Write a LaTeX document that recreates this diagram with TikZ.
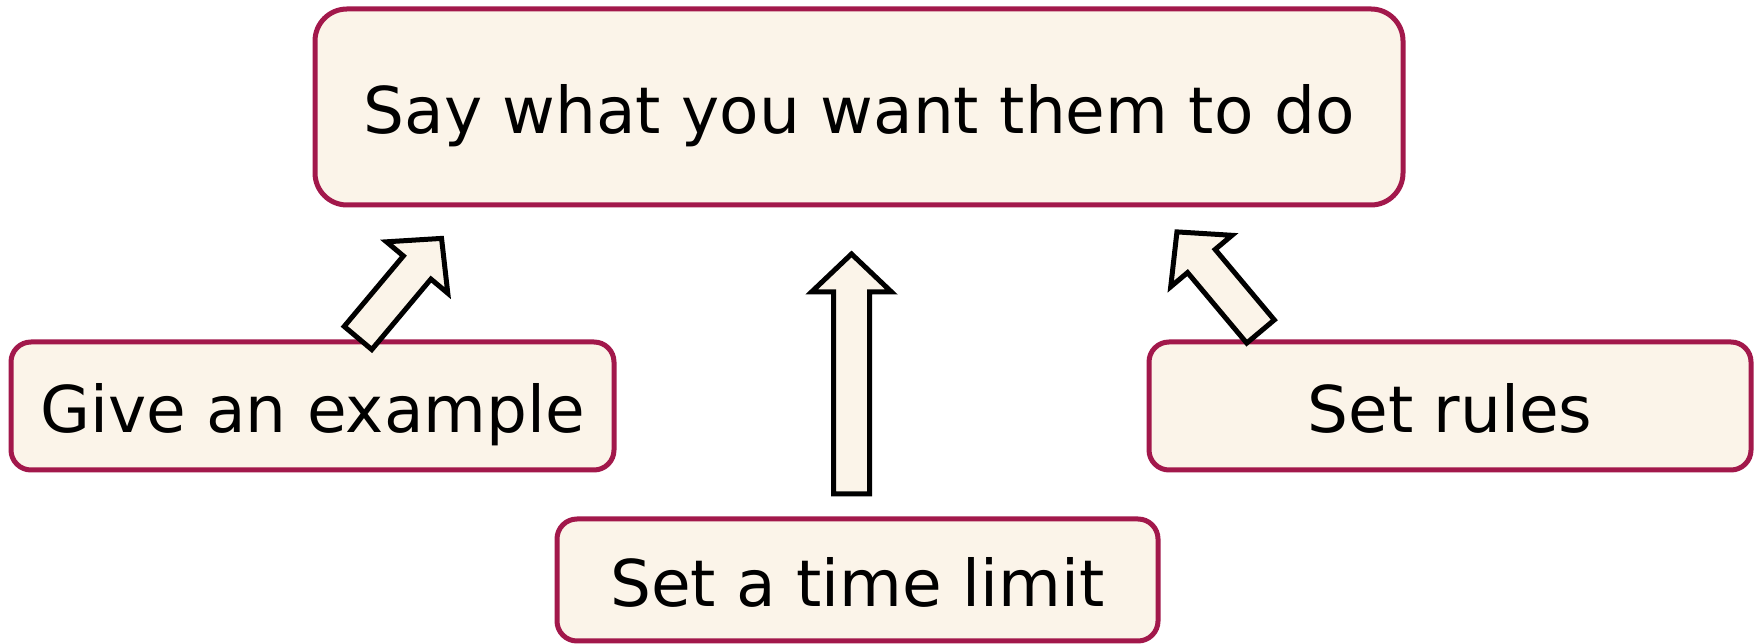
\documentclass[tikz,border=0pt]{standalone}
\usepackage{fontspec}
\setmainfont{DejaVu Sans}
\definecolor{boxborder}{HTML}{A2184B}
\definecolor{boxfill}{HTML}{FBF4E9}
\tikzset{
  box/.style={draw=boxborder, fill=boxfill, line width=5pt, rectangle,
    rounded corners=20pt, inner sep=0pt, font=\fontsize{64.5}{78}\selectfont,
    text height=54pt, text depth=0pt},
  blockarrowstyle/.style={draw=black, fill=boxfill, line width=5pt, line join=miter},
  pics/blockarrow/.style={code={
    \draw[blockarrowstyle] (-18,0) -- (-18,{#1-38}) -- (-40,{#1-38}) -- (0,#1)
      -- (40,{#1-38}) -- (18,{#1-38}) -- (18,0) -- cycle;}}
}
\begin{document}
\begin{tikzpicture}[x=1pt,y=1pt]
\useasboundingbox (0,0) rectangle (1760,644);
\node[box, rounded corners=32pt, minimum width=1088pt, minimum height=196pt] (top) at (859,537) {Say what you want them to do};
\node[box, minimum width=603pt, minimum height=128pt] (example) at (312.5,238) {Give an example};
\node[box, minimum width=602pt, minimum height=128pt] (rules) at (1450,238) {Set rules};
\node[box, minimum width=601pt, minimum height=122pt] (time) at (857.5,64) {Set a time limit};
\coordinate (aex) at (358,306);
\coordinate (art) at (1260.5,312.5);
\coordinate (atm) at (851.5,150);
\pic[rotate=-40] at (aex) {blockarrow=130};
\pic[rotate=40] at (art) {blockarrow=130};
\pic at (atm) {blockarrow=240};
\end{tikzpicture}
\end{document}
